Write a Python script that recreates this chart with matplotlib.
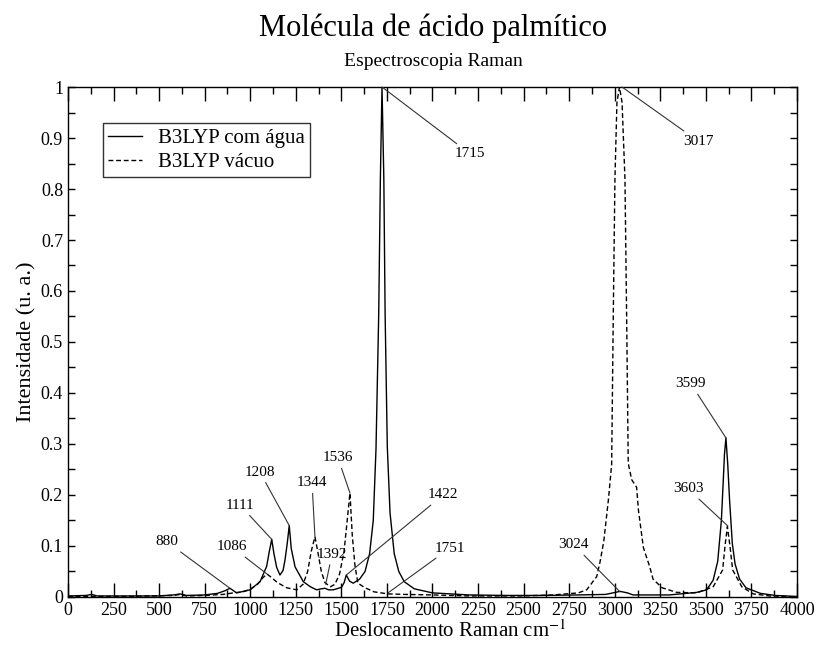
import matplotlib

matplotlib.use("Agg")
import matplotlib.pyplot as plt
from matplotlib.ticker import FuncFormatter, MultipleLocator

# B3LYP com água (solid)
agua_x = [0, 100, 130, 160, 300, 500, 580, 615, 650, 750, 820, 860, 889, 925,
          999, 1054, 1090, 1105, 1118, 1130, 1145, 1163, 1180, 1191, 1203, 1214,
          1225, 1246, 1291, 1330, 1364, 1390, 1410, 1430, 1456, 1501, 1515, 1527,
          1545, 1565, 1600, 1630, 1655, 1675, 1690, 1705, 1714, 1723, 1733, 1740,
          1752, 1767, 1790, 1815, 1845, 1900, 2000, 2200, 2400, 2600, 2800, 2950,
          2990, 3029, 3070, 3100, 3300, 3450, 3504, 3540, 3565, 3585, 3595, 3602,
          3610, 3620, 3630, 3645, 3660, 3685, 3720, 3800, 3880, 4000]
agua_y = [0.002, 0.003, 0.005, 0.002, 0.002, 0.002, 0.004, 0.006, 0.003, 0.004,
          0.007, 0.012, 0.017, 0.008, 0.014, 0.030, 0.060, 0.090, 0.113, 0.085,
          0.058, 0.043, 0.052, 0.073, 0.105, 0.140, 0.095, 0.059, 0.030, 0.020,
          0.014, 0.016, 0.017, 0.014, 0.014, 0.019, 0.028, 0.043, 0.031, 0.027,
          0.035, 0.050, 0.085, 0.150, 0.290, 0.556, 0.820, 1.000, 0.820, 0.556,
          0.295, 0.165, 0.085, 0.050, 0.030, 0.016, 0.008, 0.004, 0.003, 0.003,
          0.004, 0.005, 0.008, 0.011, 0.008, 0.004, 0.004, 0.009, 0.014, 0.033,
          0.070, 0.150, 0.225, 0.280, 0.312, 0.260, 0.190, 0.105, 0.065, 0.035,
          0.018, 0.007, 0.003, 0.001]

# B3LYP vácuo (dashed)
vacuo_x = [0, 300, 580, 615, 650, 750, 850, 907, 960, 1000, 1040, 1070, 1092,
           1110, 1150, 1200, 1255, 1290, 1315, 1335, 1355, 1370, 1390, 1410, 1440,
           1465, 1490, 1515, 1532, 1547, 1560, 1575, 1591, 1630, 1680, 1756, 1850,
           2000, 2200, 2500, 2663, 2800, 2846, 2901, 2920, 2940, 2965, 2983, 2992,
           3001, 3012, 3026, 3040, 3056, 3065, 3074, 3093, 3120, 3130, 3157, 3193,
           3210, 3260, 3340, 3450, 3540, 3592, 3605, 3618, 3632, 3647, 3697, 3760,
           3850, 4000]
vacuo_y = [0.001, 0.001, 0.003, 0.005, 0.002, 0.003, 0.005, 0.008, 0.010, 0.015,
           0.025, 0.038, 0.045, 0.040, 0.028, 0.018, 0.014, 0.025, 0.050, 0.090,
           0.118, 0.090, 0.050, 0.028, 0.020, 0.025, 0.045, 0.090, 0.150, 0.204,
           0.120, 0.060, 0.027, 0.018, 0.010, 0.006, 0.005, 0.004, 0.002, 0.002,
           0.004, 0.008, 0.014, 0.040, 0.070, 0.110, 0.190, 0.260, 0.556, 0.820,
           0.970, 1.000, 0.970, 0.820, 0.556, 0.262, 0.230, 0.215, 0.170, 0.097,
           0.058, 0.035, 0.018, 0.009, 0.008, 0.020, 0.053, 0.100, 0.138, 0.100,
           0.053, 0.020, 0.006, 0.002, 0.000]

# peak labels: text, marked point, label position
peak_labels = ["880", "1086", "1111", "1208", "1344", "1392", "1422", "1536",
               "1715", "1751", "3017", "3024", "3599", "3603"]
peak_x = [889, 1092, 1118, 1214, 1355, 1414, 1527, 1547, 1723, 1756, 3040, 3029,
          3610, 3621]
peak_y = [0.017, 0.045, 0.113, 0.140, 0.118, 0.025, 0.043, 0.204, 1.0, 0.008,
          1.0, 0.010, 0.312, 0.139]
label_x = [543, 900, 944, 1053, 1339, 1449, 2058, 1481, 2206, 2096, 3457, 2776,
           3418, 3402]
label_y = [0.108, 0.098, 0.180, 0.245, 0.224, 0.084, 0.200, 0.273, 0.869, 0.096,
           0.894, 0.102, 0.418, 0.212]

plt.rcParams["font.family"] = ["Liberation Serif", "DejaVu Serif"]
plt.rcParams["mathtext.fontset"] = "stix"

fig = plt.figure(figsize=(8.22, 6.46), dpi=100)
ax = fig.add_axes([0.0827, 0.0759, 0.8869, 0.7894])

ax.plot(agua_x, agua_y, color="black", lw=1.0, label="B3LYP com água")
ax.plot(vacuo_x, vacuo_y, color="black", lw=1.0, ls=(0, (3.5, 2)),
        label="B3LYP vácuo")

for txt, px, py, tx, ty in zip(peak_labels, peak_x, peak_y, label_x, label_y):
    ax.annotate(txt, xy=(px, py), xytext=(tx, ty), fontsize=11,
                ha="center", va="center",
                arrowprops=dict(arrowstyle="-", color="#333333", lw=0.8,
                                shrinkA=1, shrinkB=0))

ax.set_xlim(0, 4000)
ax.set_ylim(0, 1)
ax.xaxis.set_major_locator(MultipleLocator(250))
ax.xaxis.set_minor_locator(MultipleLocator(125))
ax.yaxis.set_major_locator(MultipleLocator(0.1))
ax.yaxis.set_minor_locator(MultipleLocator(0.05))
ax.yaxis.set_major_formatter(FuncFormatter(lambda v, _: f"{v:g}"))
ax.tick_params(axis="both", which="both", direction="in", top=True, right=True,
               labelsize=13, width=1.0)
ax.tick_params(axis="x", which="major", length=10)
ax.tick_params(axis="x", which="minor", length=5)
ax.tick_params(axis="y", which="both", length=5)
for s in ax.spines.values():
    s.set_linewidth(1.0)

ax.set_xlabel("Deslocamento Raman cm$^{-1}$", fontsize=15, labelpad=0)
ax.xaxis.set_label_coords(0.525, -0.045)
ax.set_ylabel("Intensidade (u. a.)", fontsize=16, labelpad=3)

fig.text(0.527, 0.957, "Molécula de ácido palmítico", ha="center",
         va="center", fontsize=22)
fig.text(0.527, 0.905, "Espectroscopia Raman", ha="center", va="center",
         fontsize=14)

leg = ax.legend(loc="upper left", bbox_to_anchor=(0.048, 0.929), fontsize=15,
                frameon=True, fancybox=False, edgecolor="black",
                handlelength=1.6, handletextpad=0.8, borderpad=0.25,
                labelspacing=0.22, borderaxespad=0)
leg.get_frame().set_linewidth(1.0)

fig.savefig("out.png", dpi=100)
